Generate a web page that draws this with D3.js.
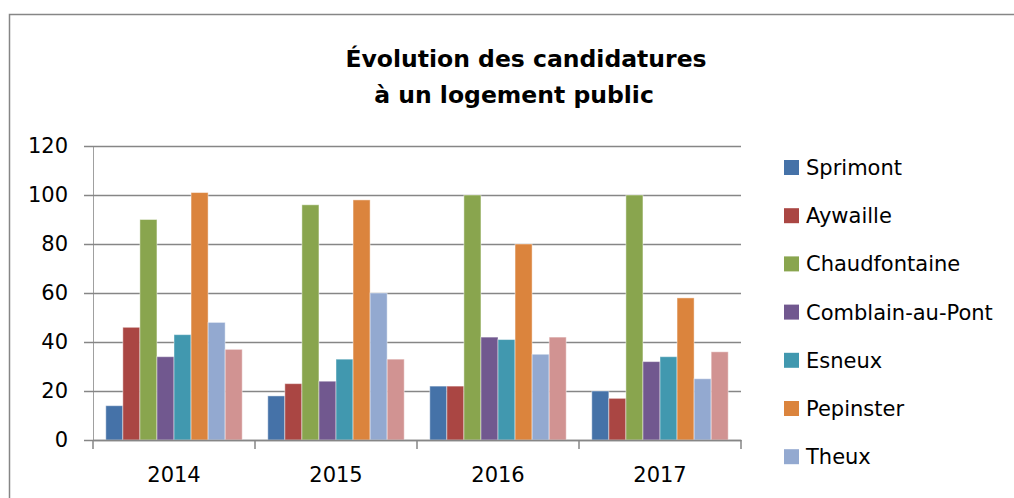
<!DOCTYPE html>
<html lang="fr">
<head>
<meta charset="UTF-8">
<title>Évolution des candidatures</title>
<script src="https://d3js.org/d3.v7.min.js"></script>
<style>
  body { margin: 0; background: #fff; }
  svg { display: block; font-family: "DejaVu Sans", sans-serif; }
</style>
</head>
<body>
<svg width="1014" height="498"></svg>
<script>
const years = ["2014", "2015", "2016", "2017"];
const communes = ["Sprimont", "Aywaille", "Chaudfontaine", "Comblain-au-Pont", "Esneux", "Pepinster", "Theux", "Trooz"];
const colors = ["#4572a8", "#aa4643", "#89a54e", "#71588f", "#4198af", "#db843d", "#93a9d0", "#d19392"];
const values = {
  "Sprimont":         [14, 18, 22, 20],
  "Aywaille":         [46, 23, 22, 17],
  "Chaudfontaine":    [90, 96, 100, 100],
  "Comblain-au-Pont": [34, 24, 42, 32],
  "Esneux":           [43, 33, 41, 34],
  "Pepinster":        [101, 98, 80, 58],
  "Theux":            [48, 60, 35, 25],
  "Trooz":            [37, 33, 42, 36]
};
const yTicks = [0, 20, 40, 60, 80, 100, 120];
// the last legend entry falls below the visible frame in the original
const legendShown = communes.slice(0, 7);

const svg = d3.select("svg");
const plot = { left: 93, right: 741, top: 146, bottom: 440 };

// chart frame
svg.append("rect")
  .attr("x", 9.5).attr("y", 14.5)
  .attr("width", 1100).attr("height", 600)
  .attr("fill", "#fff").attr("stroke", "#868686").attr("stroke-width", 1.5);

const x0 = d3.scaleBand().domain(years).range([plot.left, plot.right]).padding(0);
const x1 = d3.scaleBand().domain(communes).range([0, x0.bandwidth()])
  .paddingInner(0).paddingOuter(0.75);
const y = d3.scaleLinear().domain([0, 120]).range([plot.bottom, plot.top]);

// gridlines + y labels
const yAxis = svg.append("g")
  .attr("transform", `translate(${plot.left},0)`)
  .call(d3.axisLeft(y).tickValues(yTicks).tickSize(9).tickPadding(16));
yAxis.select(".domain").attr("stroke", "#a0a0a0").attr("stroke-width", 1);
yAxis.selectAll(".tick line").attr("stroke", "#868686").attr("stroke-width", 1.5)
  .attr("x2", plot.right - plot.left).attr("x1", -9);
yAxis.selectAll(".tick text").attr("font-size", 21).attr("fill", "#000")
  .attr("font-family", "DejaVu Sans");

// bars
const groups = svg.append("g").selectAll("g")
  .data(years)
  .join("g")
  .attr("transform", d => `translate(${x0(d)},0)`);

groups.selectAll("rect")
  .data((yr, i) => communes.map((c, k) => ({ c, k, v: values[c][i] })))
  .join("rect")
  .attr("x", d => x1(d.c))
  .attr("y", d => y(d.v))
  .attr("width", x1.bandwidth())
  .attr("height", d => y(0) - y(d.v))
  .attr("fill", d => colors[d.k])
  .attr("stroke", "#fff").attr("stroke-opacity", 0.45).attr("stroke-width", 1);

// x axis
const xAxis = svg.append("g")
  .attr("transform", `translate(0,${plot.bottom})`)
  .call(d3.axisBottom(x0).tickSize(0).tickPadding(27));
xAxis.select(".domain").attr("stroke", "#868686").attr("stroke-width", 1.5);
xAxis.selectAll(".tick text").attr("font-size", 21).attr("fill", "#000")
  .attr("font-family", "DejaVu Sans");
svg.append("g").selectAll("line")
  .data(years.map(d => x0(d)).concat([plot.right]))
  .join("line")
  .attr("x1", d => d).attr("x2", d => d)
  .attr("y1", plot.bottom).attr("y2", plot.bottom + 9)
  .attr("stroke", "#868686").attr("stroke-width", 1.5);

// title
svg.append("text")
  .attr("x", 526).attr("y", 67)
  .attr("text-anchor", "middle")
  .attr("font-size", 23.5).attr("font-weight", "bold")
  .text("Évolution des candidatures");
svg.append("text")
  .attr("x", 514).attr("y", 103)
  .attr("text-anchor", "middle")
  .attr("font-size", 23.5).attr("font-weight", "bold")
  .text("à un logement public");

// legend
const legend = svg.append("g").selectAll("g")
  .data(legendShown)
  .join("g")
  .attr("transform", (d, i) => `translate(784,${175 + i * 48.2})`);
legend.append("rect")
  .attr("x", 0).attr("y", -15)
  .attr("width", 15).attr("height", 15)
  .attr("fill", (d, i) => colors[i]);
legend.append("text")
  .attr("x", 22).attr("y", 0)
  .attr("font-size", 21)
  .text(d => d);
</script>
</body>
</html>
